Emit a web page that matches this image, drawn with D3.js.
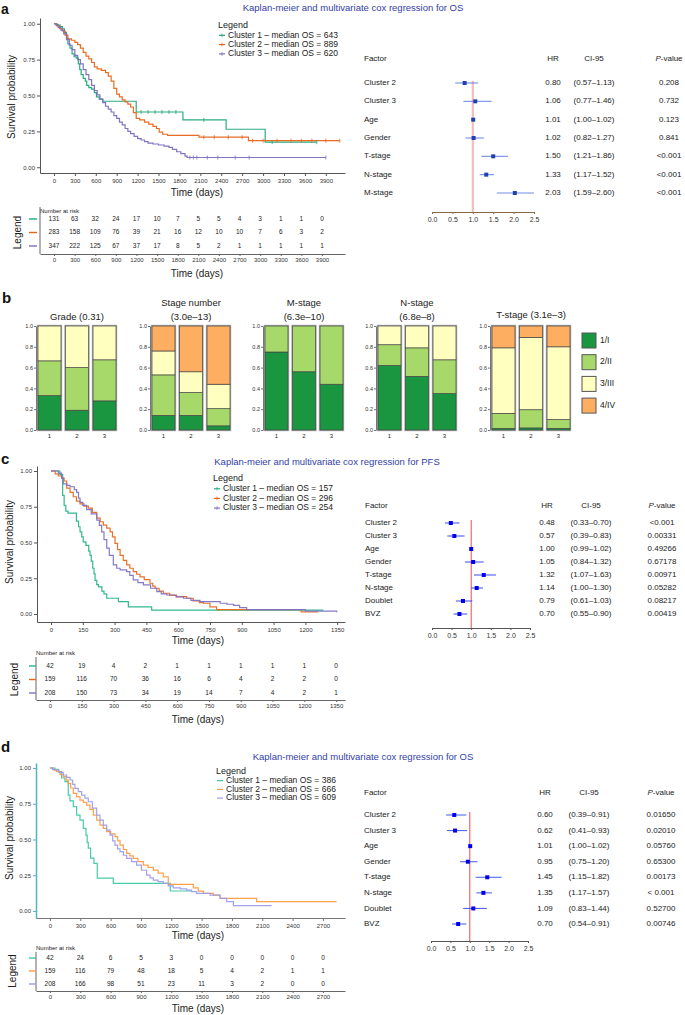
<!DOCTYPE html>
<html><head><meta charset="utf-8">
<script src="https://cdn.jsdelivr.net/npm/d3@7"></script>
<style>body{margin:0;background:#fff}</style>
</head><body>
<script>
// ---------------- DATA ----------------
// Panel a: KM OS (time, survival) step points
const osA_c1 = [[0,1],[30,0.995],[60,0.99],[90,0.98],[120,0.965],[150,0.94],[180,0.90],[200,0.86],[230,0.83],[260,0.79],[290,0.77],[320,0.76],[350,0.72],[370,0.68],[390,0.645],[420,0.62],[450,0.60],[470,0.57],[500,0.555],[540,0.545],[580,0.52],[610,0.49],[650,0.475],[700,0.46],[1180,0.385],[1850,0.33],[2470,0.265],[3030,0.175],[3770,0.175]];
const osA_c2 = [[0,1],[40,0.985],[80,0.965],[120,0.95],[160,0.92],[200,0.895],[250,0.885],[300,0.87],[340,0.855],[380,0.83],[420,0.80],[460,0.775],[500,0.755],[540,0.73],[580,0.70],[620,0.685],[680,0.675],[740,0.66],[780,0.635],[820,0.60],[860,0.55],[900,0.51],[940,0.49],[980,0.47],[1020,0.455],[1060,0.44],[1100,0.42],[1140,0.38],[1180,0.34],[1230,0.33],[1300,0.315],[1360,0.30],[1420,0.285],[1470,0.27],[1510,0.245],[1560,0.23],[1630,0.222],[2080,0.21],[2790,0.185],[4100,0.185]];
const osA_c3 = [[0,1],[30,0.99],[60,0.975],[100,0.955],[140,0.93],[180,0.89],[220,0.85],[260,0.82],[300,0.78],[340,0.75],[380,0.72],[420,0.68],[460,0.645],[500,0.61],[540,0.57],[580,0.535],[620,0.505],[660,0.475],[700,0.45],[740,0.425],[780,0.405],[820,0.385],[860,0.36],[900,0.34],[940,0.315],[980,0.295],[1020,0.27],[1060,0.25],[1100,0.235],[1150,0.215],[1200,0.20],[1250,0.19],[1300,0.178],[1350,0.168],[1420,0.162],[1500,0.155],[1580,0.147],[1650,0.138],[1700,0.125],[1760,0.108],[1820,0.095],[1880,0.078],[1910,0.068],[3900,0.068]];
const censA_c1 = [1250,1350,1450,1550,1650,1750,2150,3130,3770];
const censA_c2 = [2150,2300,2500,2700,2850,3000,3200,3400,3550,3700,3900,4100];
const censA_c3 = [1950,2000,2050,2200,2350,2600,2800,3900];
const legendA = ["Cluster 1 \u2013 median OS = 643","Cluster 2 \u2013 median OS = 889","Cluster 3 \u2013 median OS = 620"];
const ticksA = [0,300,600,900,1200,1500,1800,2100,2400,2700,3000,3300,3600,3900];
const riskA_c1 = [131,63,32,24,17,10,7,5,5,4,3,1,1,0];
const riskA_c2 = [283,158,109,76,39,21,16,12,10,10,7,6,3,2];
const riskA_c3 = [347,222,125,67,37,17,8,5,2,1,1,1,1,1];

// Panel a forest
const factorsA = ["Cluster 2","Cluster 3","Age","Gender","T-stage","N-stage","M-stage"];
const hrA = [0.80,1.06,1.01,1.02,1.50,1.33,2.03];
const loA = [0.57,0.77,1.00,0.82,1.21,1.17,1.59];
const hiA = [1.13,1.46,1.02,1.27,1.86,1.52,2.60];
const pA = ["0.208","0.732","0.123","0.841","<0.001","<0.001","<0.001"];

// Panel b stacked proportions per cluster [1/I, 2/II, 3/III, 4/IV]
const levelsB = ["1/I","2/II","3/III","4/IV"];
const gradeB = [[0.33,0.335,0.335,0],[0.19,0.41,0.40,0],[0.28,0.395,0.325,0]];
const stageB = [[0.14,0.39,0.23,0.24],[0.14,0.22,0.20,0.44],[0.04,0.165,0.235,0.56]];
const mStageB = [[0.75,0.25,0,0],[0.56,0.44,0,0],[0.44,0.56,0,0]];
const nStageB = [[0.62,0.20,0.18,0],[0.515,0.275,0.21,0],[0.35,0.325,0.325,0]];
const tStageB = [[0.015,0.145,0.63,0.21],[0.02,0.175,0.695,0.11],[0.015,0.085,0.70,0.20]];

// Panel c: KM PFS
const pfsC_c1 = [[0,1],[42,0.975],[55,0.83],[62,0.76],[70,0.72],[80,0.705],[120,0.65],[130,0.61],[137,0.575],[145,0.54],[152,0.505],[165,0.48],[178,0.44],[184,0.41],[190,0.37],[197,0.32],[203,0.28],[208,0.235],[216,0.205],[224,0.19],[240,0.16],[250,0.14],[263,0.11],[318,0.087],[365,0.05],[475,0.027],[1285,0.027]];
const pfsC_c2 = [[0,1],[20,0.98],[35,0.965],[50,0.95],[62,0.93],[74,0.88],[90,0.85],[105,0.82],[120,0.79],[137,0.77],[155,0.755],[176,0.74],[195,0.71],[216,0.67],[232,0.645],[247,0.622],[263,0.60],[279,0.575],[290,0.54],[302,0.494],[314,0.45],[326,0.41],[341,0.375],[357,0.343],[372,0.32],[388,0.296],[404,0.278],[420,0.26],[440,0.24],[467,0.215],[480,0.195],[491,0.18],[510,0.16],[530,0.145],[560,0.13],[593,0.122],[640,0.11],[671,0.091],[700,0.08],[719,0.075],[750,0.05],[781,0.03],[1180,0.015],[1260,0.015]];
const pfsC_c3 = [[0,1],[35,0.985],[50,0.95],[58,0.91],[75,0.90],[90,0.89],[110,0.87],[121,0.85],[130,0.81],[137,0.78],[150,0.76],[168,0.73],[190,0.70],[216,0.657],[228,0.62],[239,0.575],[250,0.52],[263,0.46],[275,0.41],[294,0.343],[310,0.32],[326,0.308],[357,0.296],[372,0.27],[388,0.238],[410,0.22],[436,0.203],[470,0.18],[499,0.157],[520,0.14],[546,0.133],[590,0.12],[625,0.11],[660,0.095],[703,0.087],[798,0.075],[830,0.068],[861,0.06],[890,0.045],[923,0.03],[1200,0.02],[1348,0.012]];
const legendC = ["Cluster 1 \u2013 median OS = 157","Cluster 2 \u2013 median OS = 296","Cluster 3 \u2013 median OS = 254"];
const ticksC = [0,150,300,450,600,750,900,1050,1200,1350];
const riskC_c1 = [42,19,4,2,1,1,1,1,1,0];
const riskC_c2 = [159,116,70,36,16,6,4,2,2,0];
const riskC_c3 = [208,150,73,34,19,14,7,4,2,1];

const factorsC = ["Cluster 2","Cluster 3","Age","Gender","T-stage","N-stage","Doublet","BVZ"];
const hrC = [0.48,0.57,1.00,1.05,1.32,1.14,0.79,0.70];
const loC = [0.33,0.39,0.99,0.84,1.07,1.00,0.61,0.55];
const hiC = [0.70,0.83,1.02,1.32,1.63,1.30,1.03,0.90];
const pC = ["<0.001","0.00331","0.49266","0.67178","0.00971","0.05282","0.08217","0.00419"];

// Panel d: KM OS
const osD_c1 = [[0,1],[50,0.99],[82,0.974],[115,0.93],[148,0.905],[181,0.81],[198,0.77],[231,0.73],[264,0.67],[297,0.636],[330,0.578],[356,0.53],[368,0.48],[379,0.44],[402,0.37],[435,0.333],[468,0.23],[626,0.193],[1190,0.14],[1400,0.14]];
const osD_c2 = [[0,1],[33,0.985],[66,0.974],[100,0.955],[132,0.94],[160,0.915],[181,0.893],[205,0.86],[231,0.823],[264,0.80],[297,0.776],[330,0.76],[363,0.741],[396,0.71],[429,0.671],[462,0.635],[495,0.60],[528,0.578],[561,0.555],[600,0.54],[643,0.52],[670,0.49],[693,0.461],[726,0.43],[759,0.403],[790,0.385],[824,0.368],[870,0.345],[923,0.321],[970,0.305],[1022,0.286],[1070,0.265],[1121,0.239],[1170,0.186],[1418,0.162],[1467,0.139],[1517,0.123],[1616,0.111],[1682,0.088],[2044,0.065],[2835,0.065]];
const osD_c3 = [[0,1],[25,0.99],[50,0.986],[90,0.97],[132,0.951],[165,0.935],[198,0.916],[225,0.885],[247,0.858],[280,0.835],[313,0.811],[346,0.79],[379,0.764],[420,0.72],[462,0.671],[495,0.635],[528,0.60],[561,0.565],[594,0.53],[620,0.49],[643,0.461],[668,0.435],[693,0.415],[726,0.39],[759,0.368],[808,0.345],[857,0.321],[905,0.285],[956,0.251],[990,0.232],[1022,0.216],[1070,0.205],[1121,0.193],[1170,0.175],[1220,0.162],[1290,0.155],[1352,0.146],[1400,0.135],[1451,0.123],[1583,0.111],[1682,0.088],[1748,0.065],[1814,0.037],[2192,0.037]];
const legendD = ["Cluster 1 \u2013 median OS = 386","Cluster 2 \u2013 median OS = 666","Cluster 3 \u2013 median OS = 609"];
const ticksD = [0,300,600,900,1200,1500,1800,2100,2400,2700];
const riskD_c1 = [42,24,6,5,3,0,0,0,0,0];
const riskD_c2 = [159,116,79,48,18,5,4,2,1,1];
const riskD_c3 = [208,166,98,51,23,11,3,2,0,0];

const factorsD = ["Cluster 2","Cluster 3","Age","Gender","T-stage","N-stage","Doublet","BVZ"];
const hrD = [0.60,0.62,1.01,0.95,1.45,1.35,1.09,0.70];
const loD = [0.39,0.41,1.00,0.75,1.15,1.17,0.83,0.54];
const hiD = [0.91,0.93,1.02,1.20,1.82,1.57,1.44,0.91];
const pD = ["0.01650","0.02010","0.05760","0.65300","0.00173","< 0.001","0.52700","0.00746"];

// ---------------- DRAWING ----------------
const FONT = "'Liberation Sans', Arial, Helvetica, sans-serif";
const TITLE_COL = "#3241a6";
const colA = ["#1fa77a","#e8641a","#7b6cc0"];
const colC = ["#27b489","#e8691e","#7f72c6"];
const colD = ["#3cc9a2","#ff9a45","#9d9cec"];
const barCols = ["#1a9641","#a6d96a","#ffffbf","#fdae61"];

const svg = d3.select("body").append("svg")
  .attr("width",685).attr("height",1015)
  .style("font-family",FONT);
svg.append("rect").attr("width",685).attr("height",1015).attr("fill","#fff");

function txt(g,x,y,s,size,opts={}){
  const t = g.append("text").attr("x",x).attr("y",y).attr("font-size",size)
    .attr("fill",opts.fill||"#222").attr("text-anchor",opts.anchor||"start")
    .attr("dominant-baseline",opts.base||"middle").text(s);
  if(opts.weight) t.attr("font-weight",opts.weight);
  if(opts.rotate) t.attr("transform",`rotate(-90,${x},${y})`);
  return t;
}
function styleAxis(g,size,col){
  g.attr("font-family",FONT).attr("font-size",size);
  g.selectAll("text").attr("fill","#333");
  g.selectAll("line").attr("stroke",col||"#555");
  g.select(".domain").attr("stroke",col||"#555");
}

function drawKM(o){
  const g = svg.append("g");
  const x = d3.scaleLinear().domain(o.xDom).range(o.xRange);
  const y = d3.scaleLinear().domain(o.yDom).range(o.yRange);
  const ax = g.append("g").attr("transform",`translate(0,${o.yRange[0]})`)
    .call(d3.axisBottom(x).tickValues(o.ticks).tickFormat(d3.format("d")).tickSize(3).tickSizeOuter(0).tickPadding(3));
  styleAxis(ax,6,o.xAxisCol);
  ax.select(".domain").attr("stroke-width",o.xAxisW||1);
  const ay = g.append("g").attr("transform",`translate(${o.xRange[0]},0)`)
    .call(d3.axisLeft(y).tickValues([0,0.25,0.5,0.75,1]).tickFormat(d3.format(".2f")).tickSize(3).tickSizeOuter(0).tickPadding(2));
  styleAxis(ay,6,o.yAxisCol);
  ay.select(".domain").attr("stroke-width",o.yAxisW||1);
  const line = d3.line().x(d=>x(d[0])).y(d=>y(d[1])).curve(d3.curveStepAfter);
  o.series.forEach((s,i)=>{
    g.append("path").datum(s).attr("d",line).attr("fill","none")
      .attr("stroke",o.colors[i]).attr("stroke-width",1.2).attr("stroke-opacity",0.95);
  });
  if(o.censors){
    o.censors.forEach((cs,i)=>{
      const s = o.series[i];
      cs.forEach(t=>{
        let v = s[0][1];
        s.forEach(p=>{ if(p[0]<=t) v=p[1]; });
        g.append("line").attr("x1",x(t)).attr("x2",x(t)).attr("y1",y(v)-2).attr("y2",y(v)+2)
          .attr("stroke",o.colors[i]).attr("stroke-width",0.8);
      });
    });
  }
  // labels
  txt(g,o.xLabelX,o.xLabelY,"Time (days)",10,{anchor:"middle"});
  txt(g,o.yLabelX,o.yLabelY,"Survival probability",10,{anchor:"middle",rotate:true});
  // legend
  txt(g,o.legX,o.legY,"Legend",9);
  o.legend.forEach((l,i)=>{
    const yy = o.legY + o.legStep*(i+1) + (o.legOff||0);
    g.append("line").attr("x1",o.legX+1).attr("x2",o.legX+7).attr("y1",yy).attr("y2",yy)
      .attr("stroke",o.colors[i]).attr("stroke-width",1.2);
    if(o.legPlus) g.append("line").attr("x1",o.legX+4).attr("x2",o.legX+4).attr("y1",yy-1.8).attr("y2",yy+1.8)
      .attr("stroke",o.colors[i]).attr("stroke-width",0.8);
    txt(g,o.legX+10,yy,l,8.5);
  });
}

function drawRisk(o){
  const g = svg.append("g");
  const x = d3.scaleLinear().domain(o.xDom).range(o.xRange);
  const y = d3.scalePoint().domain(["c1","c2","c3"]).range([o.rowY0,o.rowY1]);
  const ax = g.append("g").attr("transform",`translate(0,${o.axisY})`)
    .call(d3.axisBottom(x).tickValues(o.ticks).tickFormat(d3.format("d")).tickSize(2).tickSizeOuter(0).tickPadding(2));
  styleAxis(ax,6,"#666");
  ax.select(".domain").attr("stroke-width",1.2);
  g.append("line").attr("x1",o.xRange[0]).attr("x2",o.xRange[0]).attr("y1",o.topY).attr("y2",o.axisY)
    .attr("stroke","#666").attr("stroke-width",1);
  txt(g,o.xRange[0],o.labelY,"Number at risk",6);
  ["c1","c2","c3"].forEach((k,i)=>{
    o.values[i].forEach((v,j)=>{
      txt(g,x(o.ticks[j]),y(k),String(v),6.5,{anchor:"middle"});
    });
    g.append("line").attr("x1",o.markX[0]).attr("x2",o.markX[1]).attr("y1",y(k)).attr("y2",y(k))
      .attr("stroke",o.colors[i]).attr("stroke-width",1.4);
  });
  txt(g,o.legLabelX,(o.rowY0+o.rowY1)/2,"Legend",10,{anchor:"middle",rotate:true});
  txt(g,o.titleX,o.titleY,"Time (days)",10,{anchor:"middle"});
}

function drawForest(o){
  const g = svg.append("g");
  const x = d3.scaleLinear().domain([0,2.5]).range(o.xRange);
  const y = d3.scalePoint().domain(o.factors).range([o.rowY0,o.rowY1]);
  txt(g,o.factorX,o.headY,"Factor",8);
  txt(g,o.hrX,o.headY,"HR",8,{anchor:"middle"});
  txt(g,o.ciX,o.headY,"CI-95",8,{anchor:"middle"});
  const ph = g.append("text").attr("x",o.pX).attr("y",o.headY).attr("font-size",8).attr("fill","#222")
    .attr("text-anchor","middle").attr("dominant-baseline","middle");
  ph.append("tspan").attr("font-style","italic").text("P");
  ph.append("tspan").text("-value");
  g.append("line").attr("x1",x(1)).attr("x2",x(1)).attr("y1",o.redTop).attr("y2",o.axisY)
    .attr("stroke",o.redCol).attr("stroke-width",o.redW);
  const ax = g.append("g").attr("transform",`translate(0,${o.axisY})`)
    .call(d3.axisBottom(x).tickValues([0,0.5,1,1.5,2,2.5]).tickFormat(d3.format(".1f")).tickSize(2).tickSizeOuter(0).tickPadding(3));
  styleAxis(ax,7,o.axisCol);
  ax.select(".domain").attr("stroke-width",1);
  o.factors.forEach((f,i)=>{
    const yy = y(f);
    g.append("line").attr("x1",x(Math.max(0,o.lo[i]))).attr("x2",x(Math.min(2.5,o.hi[i])))
      .attr("y1",yy).attr("y2",yy).attr("stroke",o.ciCol).attr("stroke-width",1.1).attr("stroke-opacity",0.85);
    g.append("rect").attr("x",x(o.hr[i])-2).attr("y",yy-2).attr("width",4).attr("height",4).attr("fill",o.ptCol);
    txt(g,o.factorX,yy,f,8);
    txt(g,o.hrX,yy,o.hr[i].toFixed(2),8,{anchor:"middle"});
    txt(g,o.ciX,yy,`(${o.lo[i].toFixed(2)}\u2013${o.hi[i].toFixed(2)})`,8,{anchor:"middle"});
    txt(g,o.pX,yy,o.p[i],8,{anchor:"middle"});
  });
}

function drawBars(o){
  const g = svg.append("g");
  const x = d3.scaleBand().domain(["1","2","3"]).range([o.left,o.left+78]).paddingInner(0.165);
  const y = d3.scaleLinear().domain([0,1]).range([430,326]);
  o.data.forEach((props,i)=>{
    const k = String(i+1);
    g.append("rect").attr("x",x(k)-0.5).attr("y",y(1)-0.5).attr("width",x.bandwidth()+1).attr("height",y(0)-y(1)+1)
      .attr("fill","none").attr("stroke","#aaa").attr("stroke-width",1.4);
    let cum = 0;
    props.forEach((p,j)=>{
      if(p<=0) return;
      g.append("rect").attr("x",x(k)).attr("y",y(cum+p)).attr("width",x.bandwidth())
        .attr("height",y(cum)-y(cum+p)).attr("fill",barCols[j]).attr("stroke","#444").attr("stroke-width",0.7);
      cum += p;
    });
    txt(g,x(k)+x.bandwidth()/2,436,k,6,{anchor:"middle"});
  });
  const ay = g.append("g").attr("transform",`translate(${o.left-2},0)`)
    .call(d3.axisLeft(y).tickValues([0,0.2,0.4,0.6,0.8,1]).tickFormat(d3.format(".1f")).tickSize(2).tickSizeOuter(0).tickPadding(1));
  styleAxis(ay,5.5,"#777");
  o.title.forEach((t,i)=>{
    txt(g,o.left+39,o.titleY+i*14,t,9.5,{anchor:"middle"});
  });
}

// ---- Panel letters & titles
txt(svg,1,14,"a",14,{weight:"bold",base:"auto",fill:"#111"});
txt(svg,2,303,"b",15,{weight:"bold",base:"auto",fill:"#111"});
txt(svg,1,464,"c",15,{weight:"bold",base:"auto",fill:"#111"});
txt(svg,1,752,"d",15,{weight:"bold",base:"auto",fill:"#111"});
txt(svg,353,8,"Kaplan-meier and multivariate cox regression for OS",9.5,{anchor:"middle",fill:TITLE_COL});
txt(svg,327,462,"Kaplan-meier and multivariate cox regression for PFS",9.5,{anchor:"middle",fill:TITLE_COL});
txt(svg,363,757,"Kaplan-meier and multivariate cox regression for OS",9.5,{anchor:"middle",fill:TITLE_COL});

// ---- Panel a
drawKM({xDom:[-200,4175],xRange:[40,345],yDom:[-0.04,1.04],yRange:[173,18],ticks:ticksA,
  series:[osA_c1,osA_c2,osA_c3],colors:colA,censors:[censA_c1,censA_c2,censA_c3],
  xLabelX:197,xLabelY:193,yLabelX:12,yLabelY:97,legX:218,legY:26,legStep:9.3,legend:legendA,legPlus:true,
  xAxisCol:"#555",yAxisCol:"#555"});
drawRisk({xDom:[-204,4235],xRange:[40,345],ticks:ticksA,values:[riskA_c1,riskA_c2,riskA_c3],colors:colA,
  rowY0:219,rowY1:246,axisY:254,topY:207,labelY:211,markX:[29,37],legLabelX:18,titleX:197,titleY:274});
drawForest({factors:factorsA,hr:hrA,lo:loA,hi:hiA,p:pA,xRange:[432,534],rowY0:83,rowY1:193,headY:59,
  factorX:364,hrX:553,ciX:594,pX:669,redTop:81,axisY:212,redCol:"#f6bcbc",redW:2.2,axisCol:"#8a6a40",
  ciCol:"#5a7ae0",ptCol:"#2040b0"});

// ---- Panel b
drawBars({left:38,data:gradeB,title:["Grade (0.31)"],titleY:317});
drawBars({left:152,data:stageB,title:["Stage number","(3.0e\u201313)"],titleY:303});
drawBars({left:265,data:mStageB,title:["M-stage","(6.3e\u201310)"],titleY:303});
drawBars({left:378,data:nStageB,title:["N-stage","(6.8e\u20138)"],titleY:303});
drawBars({left:492,data:tStageB,title:["T-stage (3.1e\u20133)"],titleY:315});
levelsB.forEach((l,i)=>{
  const yy = 333 + i*21.7;
  svg.append("rect").attr("x",582).attr("y",yy).attr("width",14).attr("height",15)
    .attr("fill",barCols[i]).attr("stroke","#555").attr("stroke-width",1);
  txt(svg,600,yy+7.5,l,8.5);
});

// ---- Panel c
drawKM({xDom:[-66,1387],xRange:[37,345],yDom:[-0.056,1.035],yRange:[622,466],ticks:ticksC,
  series:[pfsC_c1,pfsC_c2,pfsC_c3],colors:colC,
  xLabelX:198,xLabelY:641,yLabelX:10,yLabelY:542,legX:213,legY:479,legStep:9.7,legend:legendC,legPlus:true,
  xAxisCol:"#555",yAxisCol:"#555"});
drawRisk({xDom:[-66,1392],xRange:[36,345],ticks:ticksC,values:[riskC_c1,riskC_c2,riskC_c3],colors:colC,
  rowY0:666,rowY1:693,axisY:700,topY:657,labelY:653,markX:[29,36],legLabelX:15,titleX:198,titleY:720});
drawForest({factors:factorsC,hr:hrC,lo:loC,hi:hiC,p:pC,xRange:[432,530],rowY0:523,rowY1:614,headY:506,
  factorX:365,hrX:547,ciX:591,pX:662,redTop:520,axisY:628,redCol:"#e05050",redW:1,axisCol:"#555",
  ciCol:"#2a3cf0",ptCol:"#0000ee"});

// ---- Panel d
drawKM({xDom:[-138,2918],xRange:[36,345],yDom:[-0.049,1.035],yRange:[918,763],ticks:ticksD,
  series:[osD_c1,osD_c2,osD_c3],colors:colD,
  xLabelX:198,xLabelY:936,yLabelX:10,yLabelY:838,legX:216,legY:772,legStep:8.7,legend:legendD,legPlus:false,
  xAxisCol:"#777",yAxisCol:"#4fb3c9",yAxisW:1.5});
drawRisk({xDom:[-138,2918],xRange:[36,345],ticks:ticksD,values:[riskD_c1,riskD_c2,riskD_c3],colors:colD,
  rowY0:958,rowY1:984,axisY:991,topY:952,labelY:948,markX:[29,36],legLabelX:13,titleX:198,titleY:1009});
drawForest({factors:factorsD,hr:hrD,lo:loD,hi:hiD,p:pD,xRange:[431,528],rowY0:815,rowY1:924,headY:793,
  factorX:364,hrX:545,ciX:589,pX:661,redTop:812,axisY:941,redCol:"#e05050",redW:1,axisCol:"#555",
  ciCol:"#3050f0",ptCol:"#0000ee"});
</script>
</body></html>
